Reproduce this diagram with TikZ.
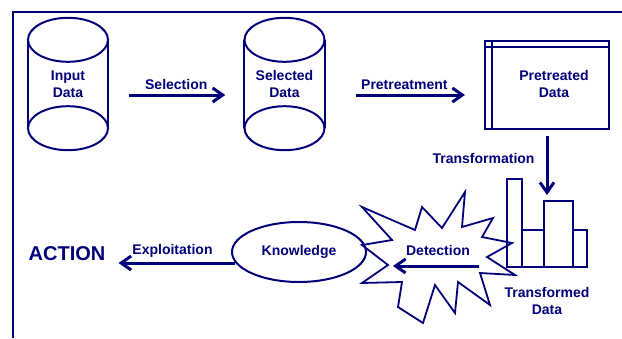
\documentclass[tikz,border=0pt]{standalone}
\usepackage{fontspec}
\setmainfont{Liberation Sans}
\usetikzlibrary{shapes.geometric,arrows.meta,positioning,calc}
\definecolor{navy}{RGB}{0,0,120}

\begin{document}
\begin{tikzpicture}[x=1pt, y=-1pt,
    txt/.style={font=\fontsize{14}{17}\selectfont\bfseries, text=navy, align=center, inner sep=1pt},
    shp/.style={draw=navy, line width=2pt},
    cyl/.style={txt, minimum width=80pt, minimum height=88pt},
    bar/.style={shp, inner sep=0pt, outer sep=0pt, anchor=south west},
    arr/.style={-{Straight Barb[length=10pt,width=14pt]}, line width=3pt, navy}
]
    \useasboundingbox (0,0) rectangle (622,338);
    % frame, only top and left edges show
    \draw[navy, line width=1.5pt] (13,338) -- (13,12) -- (622,12);

    % === Top row ===
    \node[cyl] (input) at (68,84) {Input\\Data};
    \draw[shp] (input.north west) -- (input.south west) (input.north east) -- (input.south east);
    \draw[shp] (input.north) ellipse[x radius=40, y radius=22] (input.south) ellipse[x radius=40, y radius=22];

    \node[cyl] (selected) at (284.5,84) {Selected\\Data};
    \draw[shp] (selected.north west) -- (selected.south west) (selected.north east) -- (selected.south east);
    \draw[shp] (selected.north) ellipse[x radius=40, y radius=22] (selected.south) ellipse[x radius=40, y radius=22];

    \node[shp, minimum width=124pt, minimum height=88pt] (pretreat) at (547,85) {};
    \draw[shp] ([xshift=8pt]pretreat.north west) -- ([xshift=8pt]pretreat.south west);
    \draw[shp] ([yshift=-7pt]pretreat.north west) -- ([yshift=-7pt]pretreat.north east);
    \node[txt] (pretreattxt) at (554,84) {Pretreated\\Data};

    \draw[arr, shorten <=21pt, shorten >=19pt] ([yshift=-11pt]input.east) -- ([yshift=-11pt]selected.west)
        node[txt, midway, above=3pt] {Selection};
    \draw[arr, shorten <=31pt, shorten >=19pt] ([yshift=-11pt]selected.east) -- ([yshift=-11pt]selected.east -| pretreat.west)
        node[txt, midway, above=3pt] {Pretreatment};

    % === Histogram ===
    \node[bar, minimum width=15pt, minimum height=88pt] (bar1) at (507,267) {};
    \node[bar, minimum width=22pt, minimum height=37pt] (bar2) at (bar1.south east) {};
    \node[bar, minimum width=29pt, minimum height=66pt] (bar3) at (bar2.south east) {};
    \node[bar, minimum width=14pt, minimum height=37pt] (bar4) at (bar3.south east) {};
    \node[txt] (transformed) at (547,301) {Transformed\\Data};

    \draw[arr, shorten <=6pt, shorten >=6pt] (pretreat.south) -- (pretreat.south |- bar3.north)
        node[txt, pos=0.4, left=10pt] {Transformation};

    % === Bottom row ===
    \draw[shp, line width=1.8pt, line join=miter] (362,207) -- (392,240) -- (362,245) -- (388,265) -- (362,283)
        -- (402,282) -- (398,307) -- (423,323) -- (435,285) -- (455,313) -- (458,282)
        -- (490,305) -- (480,273) -- (515,275) -- (487,257) -- (512,243) -- (482,237)
        -- (493,218) -- (462,227) -- (465,192) -- (442,228) -- (422,207) -- (415,230) -- cycle;
    \node[txt] (detect) at (438,250) {Detection};

    \node[shp, ellipse, txt, minimum width=134pt, minimum height=60pt] (know) at (299,252) {Knowledge};
    \node[txt, font=\fontsize{20}{24}\selectfont\bfseries] (action) at (67,254) {ACTION};

    \draw[arr, shorten <=28pt, shorten >=26pt] ([yshift=-14pt]know.east -| bar1.west) -- ([yshift=-14pt]know.east);
    \draw[arr, shorten <=-4pt, shorten >=12pt] ([yshift=-11pt]know.west) -- ([yshift=-11pt]know.west -| action.east)
        node[txt, pos=0.47, above=3pt] {Exploitation};
\end{tikzpicture}
\end{document}
